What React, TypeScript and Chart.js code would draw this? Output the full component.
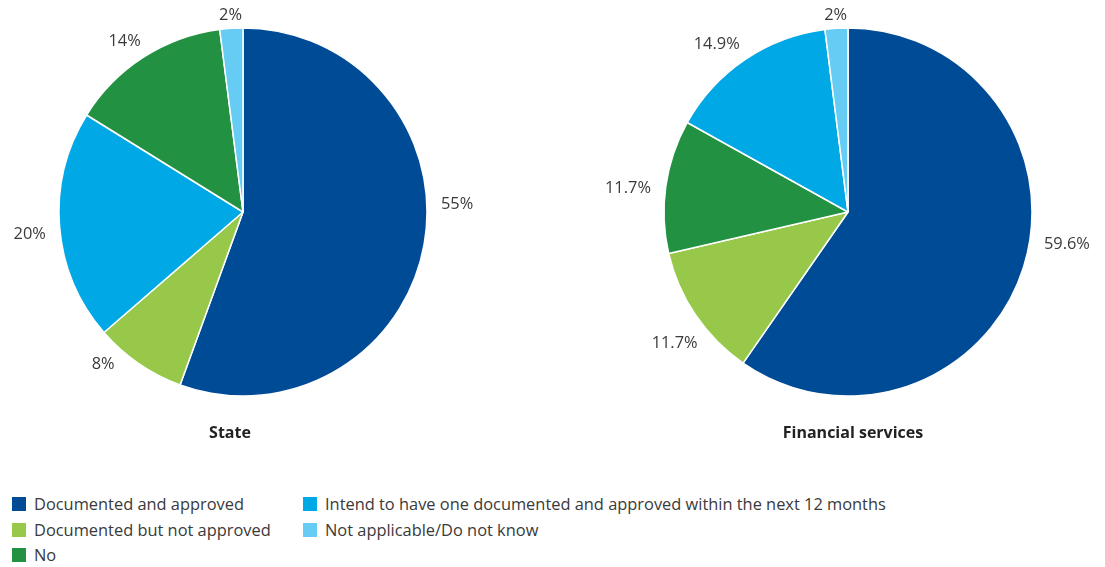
import React, { useEffect, useRef } from "react";
import { Chart, registerables } from "chart.js";

Chart.register(...registerables);

const categories = [
  "Documented and approved",
  "Documented but not approved",
  "No",
  "Intend to have one documented and approved within the next 12 months",
  "Not applicable/Do not know",
];
const categoryColors = ["#004B96", "#97C84A", "#229141", "#00A8E6", "#66CCF3"];

// State pie: slice order clockwise from top
const stateOrder = [0, 1, 3, 2, 4];
const stateValues = [55, 8, 20, 14, 2];
const stateLabels = ["55%", "8%", "20%", "14%", "2%"];

// Financial services pie
const finOrder = [0, 1, 2, 3, 4];
const finValues = [59.6, 11.7, 11.7, 14.9, 2];
const finLabels = ["59.6%", "11.7%", "11.7%", "14.9%", "2%"];

const FONT = "'Open Sans', 'Noto Sans', sans-serif";
const TEXT = "#3a3a3a";

const outsideLabels = {
  id: "outsideLabels",
  afterDatasetsDraw(chart: any, _args: any, opts: any) {
    const ctx = chart.ctx;
    const meta = chart.getDatasetMeta(0);
    const labels: string[] = opts.labels || [];
    const nudges: number[] = opts.nudges || [];
    ctx.save();
    ctx.font = `16.4px ${FONT}`;
    ctx.fillStyle = TEXT;
    ctx.textAlign = "center";
    ctx.textBaseline = "middle";
    meta.data.forEach((arc: any, i: number) => {
      const { x, y, startAngle, endAngle, outerRadius } = arc.getProps(
        ["x", "y", "startAngle", "endAngle", "outerRadius"],
        true
      );
      const mid = (startAngle + endAngle) / 2 + ((nudges[i] || 0) * Math.PI) / 180;
      const c = Math.cos(mid);
      const s = Math.sin(mid);
      const text = labels[i];
      const hw = ctx.measureText(text).width / 2;
      const hh = 4;
      const d = outerRadius + 8 + 6 * Math.abs(c) + Math.abs(c) * hw + Math.abs(s) * hh;
      ctx.fillText(text, x + c * d, y + s * d);
    });
    ctx.restore();
  },
};

function PieChart(props: {
  order: number[];
  values: number[];
  labels: string[];
  nudges: number[];
}) {
  const ref = useRef<HTMLCanvasElement | null>(null);
  useEffect(() => {
    if (!ref.current) return;
    const chart = new Chart(ref.current, {
      type: "pie",
      data: {
        labels: props.order.map((i) => categories[i]),
        datasets: [
          {
            data: props.values,
            backgroundColor: props.order.map((i) => categoryColors[i]),
            borderColor: "#ffffff",
            borderWidth: 1.5,
          },
        ],
      },
      options: {
        animation: false,
        responsive: false,
        maintainAspectRatio: false,
        radius: 184,
        layout: { padding: 0 },
        plugins: {
          legend: { display: false },
          tooltip: { enabled: false },
          outsideLabels: { labels: props.labels, nudges: props.nudges },
        } as any,
      } as any,
      plugins: [outsideLabels],
    });
    return () => chart.destroy();
  }, []);
  return <canvas ref={ref} width={500} height={424} style={{ width: 500, height: 424, display: "block" }} />;
}

function LegendItem(props: { idx: number; left: number; top: number }) {
  return (
    <div
      style={{
        position: "absolute",
        left: props.left,
        top: props.top,
        display: "flex",
        alignItems: "center",
        whiteSpace: "nowrap",
      }}
    >
      <div style={{ width: 14, height: 14, background: categoryColors[props.idx], marginRight: 8 }} />
      <span style={{ fontSize: 16.4, color: TEXT, fontFamily: FONT, lineHeight: "20px" }}>
        {categories[props.idx]}
      </span>
    </div>
  );
}

export default function App() {
  return (
    <div
      style={{
        position: "absolute",
        left: 0,
        top: 0,
        width: 1105,
        height: 567,
        background: "#ffffff",
        overflow: "hidden",
        fontFamily: FONT,
      }}
    >
      <div style={{ position: "absolute", left: -7, top: 0 }}>
        <PieChart order={stateOrder} values={stateValues} labels={stateLabels} nudges={[-12, 8, -1.5, -2, 0]} />
      </div>
      <div style={{ position: "absolute", left: 598, top: 0 }}>
        <PieChart order={finOrder} values={finValues} labels={finLabels} nudges={[-9, -3, -2, -4, 0]} />
      </div>
      <div
        style={{
          position: "absolute",
          left: 130,
          width: 200,
          top: 421,
          textAlign: "center",
          fontWeight: 700,
          fontSize: 16,
          color: "#222",
        }}
      >
        State
      </div>
      <div
        style={{
          position: "absolute",
          left: 703,
          width: 300,
          top: 421,
          textAlign: "center",
          fontWeight: 700,
          fontSize: 16,
          color: "#222",
        }}
      >
        Financial services
      </div>
      <LegendItem idx={0} left={12} top={494} />
      <LegendItem idx={1} left={12} top={520} />
      <LegendItem idx={2} left={12} top={545} />
      <LegendItem idx={3} left={303} top={494} />
      <LegendItem idx={4} left={303} top={520} />
    </div>
  );
}
